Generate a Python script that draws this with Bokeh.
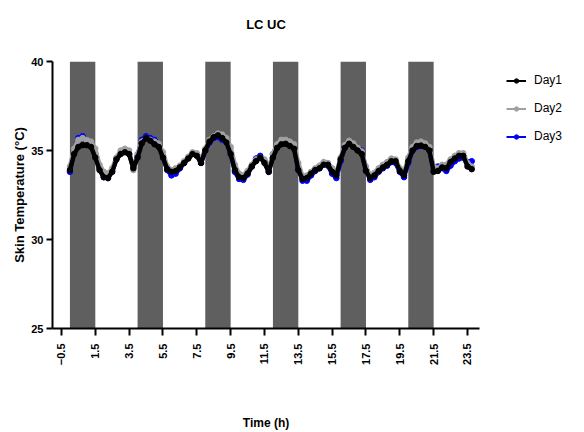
import numpy as np
from bokeh.plotting import figure
from bokeh.models import Range1d, FixedTicker, Legend, LegendItem, Title
from bokeh.embed import file_html
from bokeh.resources import INLINE

# ---------------- data ----------------
time_h = [0.00, 0.25, 0.50, 0.75, 1.00, 1.25, 1.50, 1.75, 2.00, 2.25, 2.50, 2.75,
          3.00, 3.25, 3.50, 3.75, 4.00, 4.25, 4.50, 4.75, 5.00, 5.25, 5.50, 5.75,
          6.00, 6.25, 6.50, 6.75, 7.00, 7.25, 7.50, 7.75, 8.00, 8.25, 8.50, 8.75,
          9.00, 9.25, 9.50, 9.75, 10.00, 10.25, 10.50, 10.75, 11.00, 11.25, 11.50, 11.75,
          12.00, 12.25, 12.50, 12.75, 13.00, 13.25, 13.50, 13.75, 14.00, 14.25, 14.50, 14.75,
          15.00, 15.25, 15.50, 15.75, 16.00, 16.25, 16.50, 16.75, 17.00, 17.25, 17.50, 17.75,
          18.00, 18.25, 18.50, 18.75, 19.00, 19.25, 19.50, 19.75, 20.00, 20.25, 20.50, 20.75,
          21.00, 21.25, 21.50, 21.75, 22.00, 22.25, 22.50, 22.75, 23.00, 23.25, 23.50, 23.75]

day1 = [33.9, 34.8, 35.2, 35.3, 35.3, 35.2, 34.6, 33.9, 33.5, 33.45, 33.8, 34.5,
        34.8, 34.9, 34.8, 34.0, 34.6, 35.4, 35.7, 35.55, 35.35, 35.2, 34.6, 33.95,
        33.8, 33.85, 34.05, 34.3, 34.55, 34.8, 34.7, 34.3, 35.0, 35.5, 35.75, 35.85,
        35.7, 35.45, 34.8, 33.9, 33.5, 33.45, 33.7, 34.1, 34.4, 34.6, 34.3, 33.8,
        34.6, 35.15, 35.35, 35.38, 35.25, 35.1, 33.9, 33.4, 33.45, 33.7, 33.9, 34.0,
        34.2, 34.2, 33.8, 33.6, 34.5, 35.15, 35.38, 35.2, 35.0, 34.8, 33.85, 33.45,
        33.6, 33.85, 34.05, 34.2, 34.4, 34.4, 33.85, 33.6, 34.4, 35.0, 35.25, 35.28,
        35.2, 35.0, 33.8, 33.85, 34.05, 34.0, 34.35, 34.55, 34.7, 34.7, 34.1, 33.95]

day2 = [34.1, 35.1, 35.6, 35.7, 35.6, 35.5, 35.1, 34.2, 33.8, 33.7, 34.0, 34.6,
        35.0, 35.1, 35.0, 33.9, 34.8, 35.5, 35.7, 35.6, 35.5, 35.4, 34.9, 34.1,
        33.9, 34.0, 34.15, 34.4, 34.65, 34.9, 34.85, 34.5, 35.1, 35.6, 35.8, 35.95,
        35.9, 35.7, 35.2, 34.2, 33.7, 33.6, 33.85, 34.2, 34.5, 34.6, 34.5, 34.0,
        34.8, 35.35, 35.6, 35.6, 35.5, 35.35, 34.3, 33.55, 33.6, 33.8, 34.0, 34.15,
        34.35, 34.3, 34.0, 33.75, 34.6, 35.3, 35.55, 35.4, 35.15, 34.95, 34.1, 33.6,
        33.75, 34.0, 34.2, 34.35, 34.55, 34.5, 34.0, 33.75, 34.6, 35.2, 35.45, 35.5,
        35.4, 35.2, 34.1, 34.0, 34.2, 34.2, 34.5, 34.7, 34.85, 34.85, 34.3, 34.1]

day3 = [33.8, 35.0, 35.7, 35.8, 35.6, 35.4, 34.8, 34.0, 33.5, 33.45, 33.85, 34.55,
        34.85, 34.95, 34.8, 34.05, 34.7, 35.6, 35.8, 35.7, 35.6, 35.4, 34.7, 33.9,
        33.6, 33.7, 34.0, 34.3, 34.6, 34.85, 34.75, 34.3, 35.0, 35.45, 35.7, 35.75,
        35.6, 35.5, 34.9, 33.8, 33.4, 33.35, 33.65, 34.1, 34.55, 34.7, 34.4, 33.8,
        34.8, 35.3, 35.4, 35.4, 35.3, 35.15, 34.0, 33.3, 33.3, 33.6, 33.85, 34.0,
        34.3, 34.15, 33.7, 33.45, 34.4, 35.2, 35.4, 35.25, 35.1, 35.0, 33.9, 33.35,
        33.5, 33.8, 34.0, 34.15, 34.35, 34.3, 33.8, 33.5, 34.3, 35.0, 35.2, 35.25,
        35.25, 35.1, 33.85, 34.1, 34.0, 33.85, 34.15, 34.4, 34.55, 34.6, 34.35, 34.4]

# shaded (dark) periods
shade_start = [0, 4, 8, 12, 16, 20]
shade_end = [1.5, 5.5, 9.5, 13.5, 17.5, 21.5]

x_ticks = [-0.5, 1.5, 3.5, 5.5, 7.5, 9.5, 11.5, 13.5, 15.5, 17.5, 19.5, 21.5, 23.5]
y_ticks = [25, 30, 35, 40]

series_names = ["Day1", "Day2", "Day3"]
series_colors = ["#000000", "#a0a0a0", "#0000ff"]

FONT = "Liberation Sans"

# ---------------- figure ----------------
p = figure(width=580, height=430, output_backend="svg", toolbar_location=None,
           x_range=Range1d(-1.03, 24.21), y_range=Range1d(25, 40),
           frame_width=427, frame_height=267,
           min_border_left=52, min_border_right=101, min_border_top=61, min_border_bottom=102,
           title="LC UC")
p.outline_line_color = None
p.grid.visible = False
p.background_fill_color = "white"
p.border_fill_color = "white"

# blank spacer title between the frame and the real title
spacer = Title(text=" ", text_font_size="10px", standoff=17)
p.add_layout(spacer, "above")

p.title.align = "center"
p.title.text_font = FONT
p.title.text_font_style = "bold"
p.title.text_font_size = "13px"
p.title.text_color = "black"
p.title.standoff = 0

p.quad(left=shade_start, right=shade_end, bottom=25, top=40,
       fill_color="#5f5f5f", line_color=None)

data_list = [day1, day2, day3]
for idx in [2, 1, 0]:
    ys = data_list[idx]
    col = series_colors[idx]
    p.line(time_h, ys, line_color=col, line_width=4.5)
    p.scatter(time_h, ys, size=5.5, fill_color=col, line_color=col)

# hidden renderers used only for the key (thin line + small dot)
legend_items = []
for idx in range(3):
    col = series_colors[idx]
    ll = p.line(time_h, data_list[idx], line_color=col, line_width=2, visible=False)
    ls = p.scatter(time_h, data_list[idx], size=5, fill_color=col, line_color=col, visible=False)
    legend_items.append(LegendItem(label=series_names[idx], renderers=[ll, ls]))

legend = Legend(items=legend_items, location=(27, 182))
legend.border_line_color = None
legend.background_fill_alpha = 0
legend.inactive_fill_alpha = 0
legend.padding = 9
legend.margin = 0
legend.spacing = 8
legend.glyph_width = 20
legend.glyph_height = 11
legend.label_height = 20
legend.label_standoff = 8
legend.label_text_font = FONT
legend.label_text_font_size = "12px"
legend.label_text_color = "#000000"
p.add_layout(legend, "right")

# axes styling
for ax in (p.xaxis[0], p.yaxis[0]):
    ax.axis_line_width = 2
    ax.axis_line_color = "black"
    ax.major_tick_line_width = 2
    ax.major_tick_line_color = "black"
    ax.major_tick_in = 0
    ax.minor_tick_line_color = None
    ax.major_label_text_font = FONT
    ax.major_label_text_font_style = "bold"
    ax.major_label_text_font_size = "11px"
    ax.major_label_text_color = "black"
    ax.axis_label_text_font = FONT
    ax.axis_label_text_font_style = "bold"
    ax.axis_label_text_font_size = "12px"
    ax.axis_label_text_color = "black"

p.xaxis.ticker = FixedTicker(ticks=x_ticks)
p.yaxis.ticker = FixedTicker(ticks=y_ticks)
p.xaxis.major_tick_out = 7
p.yaxis.major_tick_out = 6
p.xaxis.major_label_orientation = np.pi / 2
p.xaxis.major_label_standoff = 8
p.xaxis.axis_label = "Time (h)"
p.xaxis.axis_label_standoff = 48
p.yaxis.axis_label = "Skin Temperature (°C)"
p.yaxis.axis_label_text_font_size = "13px"
p.yaxis.major_label_standoff = 3
p.yaxis.axis_label_standoff = 1

open("out.html", "w").write(file_html(p, INLINE))
